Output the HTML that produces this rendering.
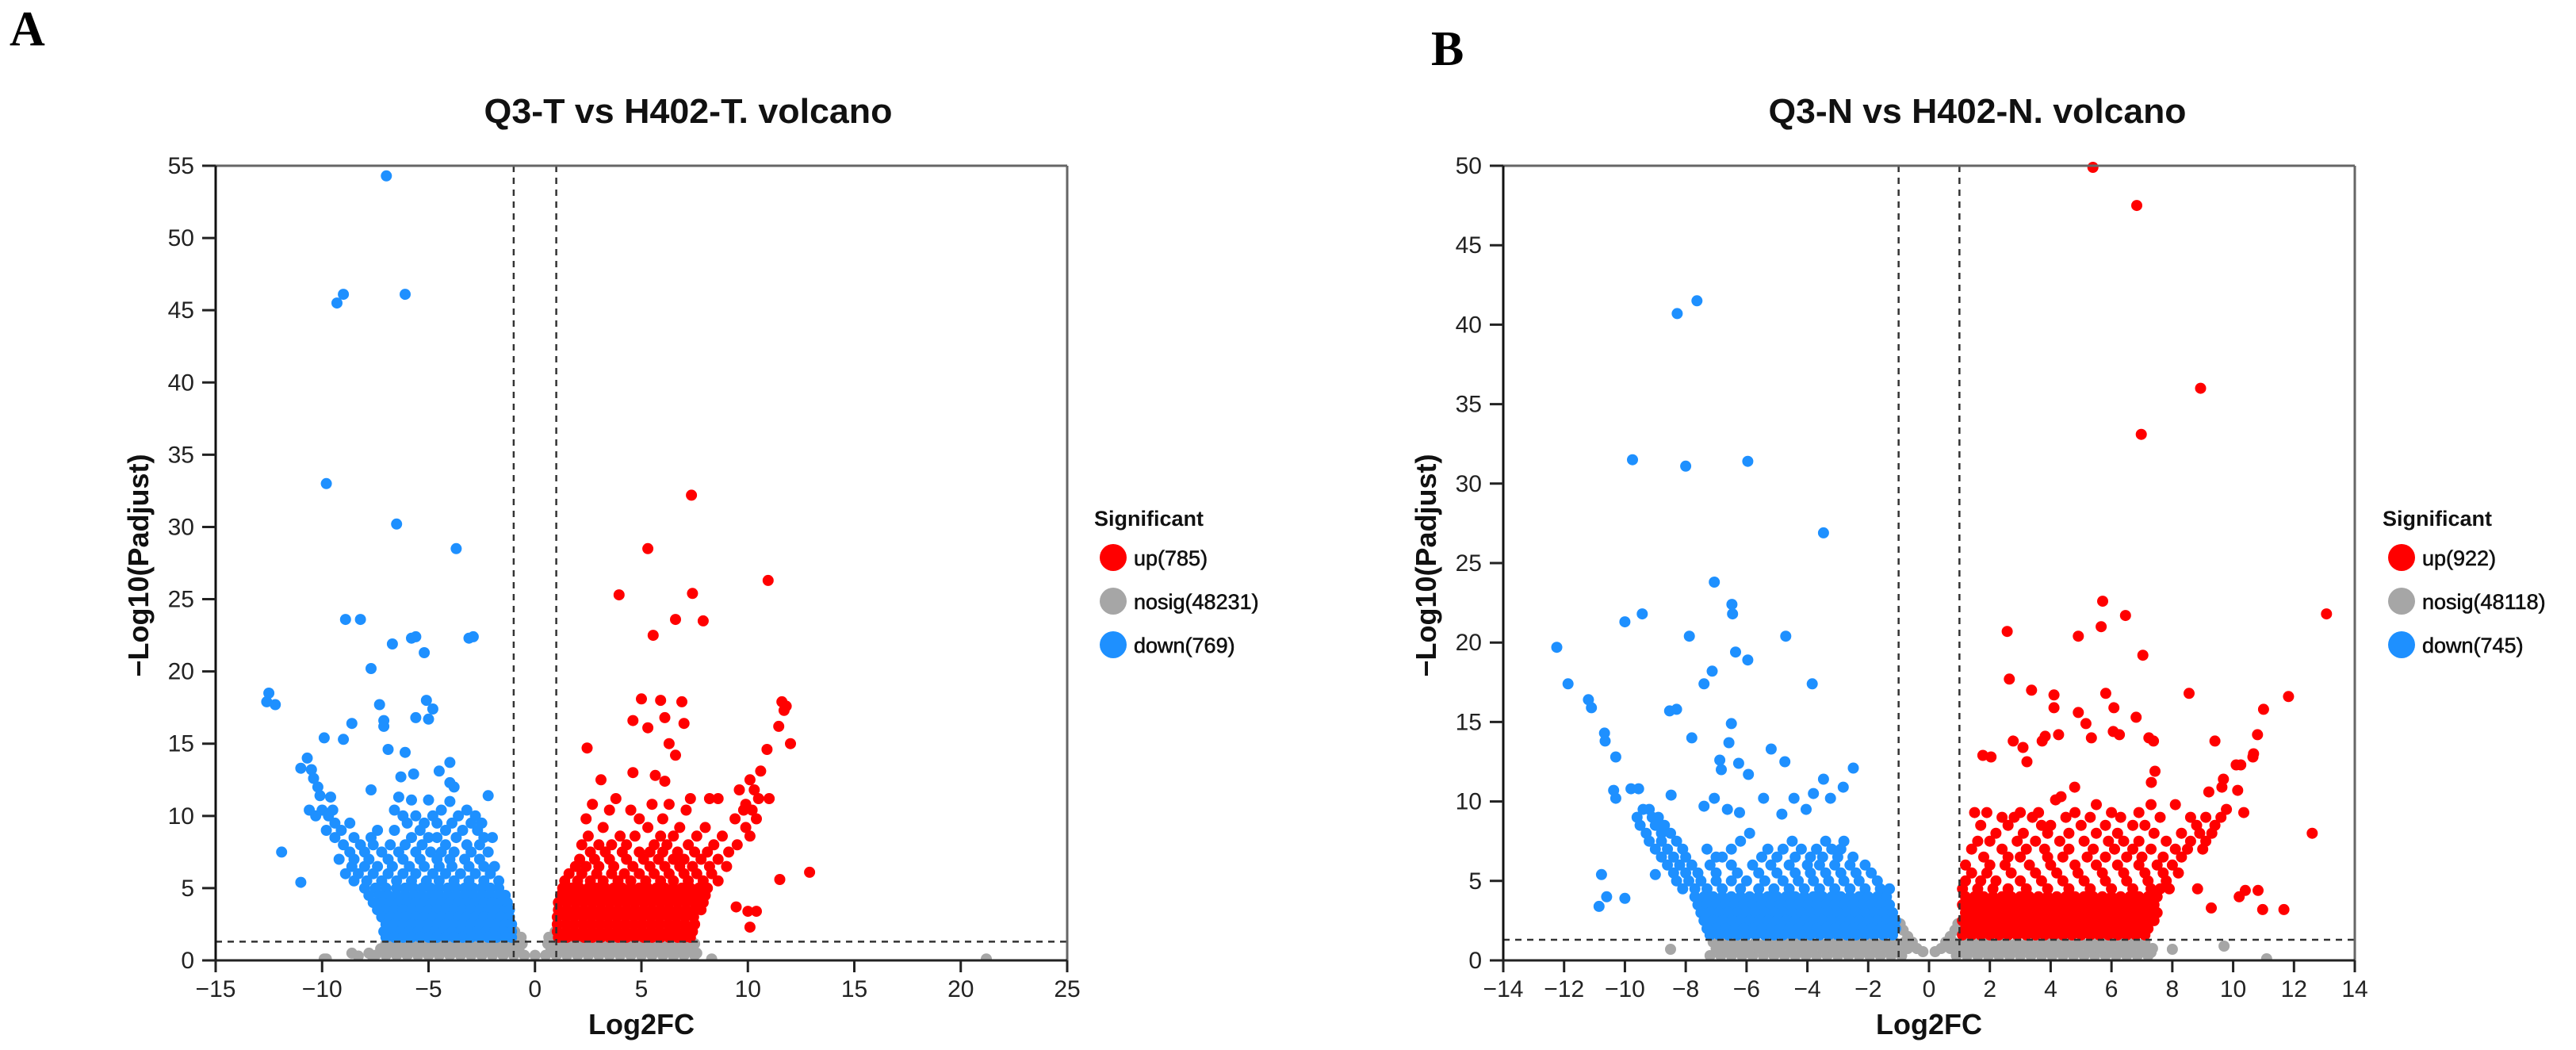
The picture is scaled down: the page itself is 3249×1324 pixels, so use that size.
<!DOCTYPE html>
<html><head><meta charset="utf-8"><style>
html,body{margin:0;padding:0;background:#fff;}
svg{display:block;}
text{font-family:"Liberation Sans",Arial,sans-serif;}
</style></head><body>
<svg id="fig" width="3249" height="1324" viewBox="0 0 3249 1324" xmlns="http://www.w3.org/2000/svg">
<rect width="3249" height="1324" fill="#fff"/>
<text x="12" y="57" font-family="Liberation Serif, serif" font-weight="bold" font-size="62" style="font-family:'Liberation Serif',serif">A</text>
<text x="1805" y="82" font-weight="bold" font-size="62" style="font-family:'Liberation Serif',serif">B</text>
<g id="pa"></g>
<g id="pb"></g>
</svg>
<script>
// ---------- Panel A data (rows: [y, x1, x2, ...]) ----------
const aXTicks = [-15,-10,-5,0,5,10,15,20,25];
const aYTicks = [0,5,10,15,20,25,30,35,40,45,50,55];
const aLegend = ["up(785)","nosig(48231)","down(769)"];
const aGray = [
[0.35,-7.5,-7,-6.5,-6,-5.5,-5,-4.5,-4,-3.5,-3,-2.5,-2,-1.5,-1,-0.5,0,0.5,1,1.5,2,2.5,3,3.5,4,4.5,5,5.5,6,6.5,7,7.5],
[0.8,-7.25,-6.75,-6.25,-5.75,-5.25,-4.75,-4.25,-3.75,-3.25,-2.75,-2.25,-1.75,-1.25,-0.75,0.75,1.25,1.75,2.25,2.75,3.25,3.75,4.25,4.75,5.25,5.75,6.25,6.75,7.25],
[1.15,-7,-6.5,-6,-5.5,-5,-4.5,-4,-3.5,-3,-2.5,-2,-1.5,-1,-0.6,0.6,1,1.5,2,2.5,3,3.5,4,4.5,5,5.5,6,6.5,7,7.5],
[1.6,-0.85,-0.65,0.65,0.85],[2.0,-0.95,0.95],
[0.1,-9.8,-9.9,-7.6,8.3,21.2],[0.5,-8.6,-7.8,7.6],[0.3,-8.3,6.5]
];
const aDown = [
[54.3,-6.98],[46.1,-9.0,-6.1],[45.5,-9.3],[33.0,-9.8],[30.2,-6.5],[28.5,-3.7],[23.6,-8.9,-8.2],[21.9,-6.7],[22.3,-5.8,-3.1],[22.4,-5.6,-2.9],[21.3,-5.2],[20.2,-7.7],[18.5,-12.5],[17.9,-12.6],[17.7,-12.2,-7.3],[18.0,-5.1],[17.4,-4.8],[16.7,-5.0],[16.8,-5.6],[16.6,-7.1],[16.2,-7.1],[16.4,-8.6],[15.4,-9.9],[15.3,-9.0],[14.6,-6.9],[14.4,-6.1],[14.0,-10.7],[13.3,-11.0],[13.2,-10.5],[12.6,-10.4],[12.0,-10.2],[11.4,-10.1,-2.2],[13.7,-4.0],[13.1,-4.5],[12.9,-5.7],[12.7,-6.3],[12.3,-4.0],[12.0,-3.8],[11.8,-7.7],[11.3,-9.6,-6.4],[11.1,-5.8,-5.0],[11.0,-4.0],[7.5,-11.9],[5.4,-11.0],
[10.4,-10.6,-10.0,-9.5,-6.6,-4.4,-3.2],[10.0,-10.3,-9.7,-6.2,-5.6,-4.8,-3.6,-2.8],[9.5,-9.4,-8.7,-6.0,-5.2,-4.6,-3.9,-3.0,-2.5],[9.0,-9.8,-9.1,-7.4,-6.6,-5.4,-4.2,-3.4,-2.7],[8.5,-9.4,-8.5,-7.7,-5.8,-5.0,-4.6,-3.7,-2.4,-2.0],[8.0,-9.0,-8.2,-7.6,-6.8,-6.1,-5.3,-4.2,-3.2,-2.6],[7.5,-8.7,-8.0,-7.2,-6.4,-5.6,-4.9,-4.4,-3.8,-3.0,-2.2],[7.0,-9.2,-8.5,-7.8,-6.9,-6.2,-5.4,-4.6,-4.0,-3.3,-2.6],[6.5,-8.6,-8.0,-7.4,-6.7,-5.9,-5.2,-4.5,-3.9,-3.1,-2.4,-1.9],[6.0,-8.9,-8.3,-7.6,-6.9,-6.2,-5.6,-4.8,-4.2,-3.5,-2.8,-2.1],[5.5,-8.5,-7.9,-7.2,-6.5,-5.8,-5.1,-4.5,-3.8,-3.1,-2.4,-1.7],
[5.0,-8.0,-7.5,-7.0,-6.5,-6.1,-5.7,-5.3,-4.9,-4.5,-4.1,-3.7,-3.3,-2.9,-2.5,-2.1,-1.7],
[4.5,-7.8,-7.3,-6.9,-6.5,-6.1,-5.7,-5.3,-4.9,-4.5,-4.1,-3.7,-3.3,-2.9,-2.5,-2.1,-1.7,-1.4],
[4.0,-7.6,-7.2,-6.8,-6.4,-6.0,-5.6,-5.2,-4.8,-4.4,-4.0,-3.6,-3.2,-2.8,-2.4,-2.0,-1.6,-1.3],
[3.5,-7.4,-7.0,-6.6,-6.2,-5.8,-5.4,-5.0,-4.6,-4.2,-3.8,-3.4,-3.0,-2.6,-2.2,-1.8,-1.4,-1.2],
[3.0,-7.2,-6.8,-6.4,-6.0,-5.6,-5.2,-4.8,-4.4,-4.0,-3.6,-3.2,-2.8,-2.4,-2.0,-1.6,-1.2],
[2.5,-7.0,-6.6,-6.2,-5.8,-5.4,-5.0,-4.6,-4.2,-3.8,-3.4,-3.0,-2.6,-2.2,-1.8,-1.4,-1.1],
[2.0,-7.1,-6.7,-6.3,-5.9,-5.5,-5.1,-4.7,-4.3,-3.9,-3.5,-3.1,-2.7,-2.3,-1.9,-1.5,-1.1],
[1.6,-7.0,-6.6,-6.2,-5.8,-5.4,-5.0,-4.6,-4.2,-3.8,-3.4,-3.0,-2.6,-2.2,-1.8,-1.4,-1.1]
];
const aUp = [
[32.2,7.35],[28.5,5.3],[25.3,3.95],[25.4,7.4],[26.3,10.95],[23.6,6.6],[23.5,7.9],[22.5,5.55],[18.1,5.0],[18.0,5.9],[17.9,6.9,11.6],[17.3,11.7],[17.6,11.8],[16.6,4.6],[16.1,5.3],[16.8,6.1],[16.4,7.0],[16.2,11.45],[14.7,2.45],[15.0,6.3,12.0],[14.2,6.6],[14.6,10.9],[12.5,3.1,10.1],[13.0,4.6],[13.1,10.6],[12.8,5.65],[12.4,6.1],[6.1,12.9],[5.6,11.5],[3.7,9.45],[3.4,10.0,10.4],[2.3,10.1],
[11.8,9.6,10.3],[11.2,3.8,7.3,8.2,8.6,10.5,11.0],[10.8,2.7,5.5,6.3,9.9],[10.4,3.5,4.5,7.1,9.8,10.2],[9.8,2.4,4.9,6.0,9.4,10.4],[9.2,3.2,5.3,6.8,8.0,9.9],[8.6,2.5,4.0,4.7,5.9,6.5,7.6,8.8,10.1],[8.0,2.2,3.0,3.6,4.3,5.6,6.2,7.2,8.4,9.5],[7.5,2.6,3.3,4.1,4.9,5.4,6.0,6.7,7.5,8.1,9.1],[7.0,2.1,2.8,3.5,4.3,5.1,5.8,6.5,7.0,7.8,8.6],[6.5,1.9,2.4,3.0,3.7,4.6,5.4,6.1,6.8,7.4,8.2,9.0],[6.0,1.6,2.2,2.9,3.6,4.2,4.9,5.6,6.3,7.0,7.6,8.3],[5.5,1.4,2.0,2.6,3.2,3.9,4.5,5.2,5.9,6.5,7.2,7.9,8.6],
[5.0,1.3,1.7,2.1,2.5,2.9,3.3,3.7,4.1,4.5,4.9,5.3,5.7,6.1,6.5,6.9,7.3,7.7,8.1],
[4.5,1.2,1.6,2.0,2.4,2.8,3.2,3.6,4.0,4.4,4.8,5.2,5.6,6.0,6.4,6.8,7.2,7.6,8.0],
[4.0,1.1,1.5,1.9,2.3,2.7,3.1,3.5,3.9,4.3,4.7,5.1,5.5,5.9,6.3,6.7,7.1,7.5,7.9],
[3.5,1.1,1.5,1.9,2.3,2.7,3.1,3.5,3.9,4.3,4.7,5.1,5.5,5.9,6.3,6.7,7.1,7.5,7.8],
[3.0,1.05,1.45,1.85,2.25,2.65,3.05,3.45,3.85,4.25,4.65,5.05,5.45,5.85,6.25,6.65,7.05,7.45],
[2.5,1.05,1.45,1.85,2.25,2.65,3.05,3.45,3.85,4.25,4.65,5.05,5.45,5.85,6.25,6.65,7.05,7.5],
[2.0,1.05,1.45,1.85,2.25,2.65,3.05,3.45,3.85,4.25,4.65,5.05,5.45,5.85,6.25,6.65,7.05,7.4],
[1.6,1.1,1.5,1.9,2.3,2.7,3.1,3.5,3.9,4.3,4.7,5.1,5.5,5.9,6.3,6.7,7.0,7.3]
];
// ---------- Panel B data ----------
const bXTicks = [-14,-12,-10,-8,-6,-4,-2,0,2,4,6,8,10,12,14];
const bYTicks = [0,5,10,15,20,25,30,35,40,45,50];
const bLegend = ["up(922)","nosig(48118)","down(745)"];
const bGray = [
[0.3,-7.2,-6.85,-6.5,-6.15,-5.8,-5.45,-5.1,-4.75,-4.4,-4.05,-3.7,-3.35,-3.0,-2.65,-2.3,-1.95,-1.6,-1.25,-0.9,0.9,1.25,1.6,1.95,2.3,2.65,3.0,3.35,3.7,4.05,4.4,4.75,5.1,5.45,5.8,6.15,6.5,6.85,7.2],
[0.75,-7.0,-6.65,-6.3,-5.95,-5.6,-5.25,-4.9,-4.55,-4.2,-3.85,-3.5,-3.15,-2.8,-2.45,-2.1,-1.75,-1.4,-1.05,-0.7,-0.4,0.4,0.7,1.05,1.4,1.75,2.1,2.45,2.8,3.15,3.5,3.85,4.2,4.55,4.9,5.25,5.6,5.95,6.3,6.65,7.0,7.35],
[1.15,-7.1,-6.75,-6.4,-6.05,-5.7,-5.35,-5.0,-4.65,-4.3,-3.95,-3.6,-3.25,-2.9,-2.55,-2.2,-1.85,-1.5,-1.15,-0.8,-0.55,0.55,0.8,1.15,1.5,1.85,2.2,2.55,2.9,3.25,3.6,3.95,4.3,4.65,5.0,5.35,5.7,6.05,6.4,6.75,7.1],
[0.55,-0.2,0.2],[1.5,-0.7,0.7],[1.9,-0.85,0.85],[2.3,-0.95,0.95],
[0.7,-8.5,8.0],[0.9,-6.5,-5.6,9.7],[0.8,-6.9],[0.5,-5.0,-6.0,7.3],[0.1,11.1]
];
const bDown = [
[40.7,-8.28],[41.5,-7.63],[31.5,-9.75],[31.1,-8.0],[31.4,-5.96],[26.9,-3.47],[23.8,-7.06],[22.4,-6.48],[21.8,-6.46,-9.43],[21.3,-10.0],[19.7,-12.24],[20.4,-7.88,-4.71],[19.4,-6.36],[18.9,-5.96],[18.2,-7.13],[17.4,-7.4,-11.87,-3.84],[16.4,-11.2],[15.9,-11.1],[15.7,-8.53],[15.8,-8.3],[14.9,-6.5],[14.3,-10.67],[13.8,-10.65],[14.0,-7.8],[13.7,-6.58],[13.3,-5.19],[12.8,-10.3],[12.6,-6.88],[12.4,-6.26],[12.5,-4.74],[12.0,-6.83],[12.1,-2.49],[11.7,-5.94],[11.4,-3.47],[10.9,-2.82],[10.2,-3.24,-10.3,-7.06,-5.44,-4.44],[10.7,-10.37],[10.8,-9.55,-9.8],[10.4,-8.48],[10.5,-3.8],[9.7,-7.4],[9.5,-6.63,-4.04],[9.3,-6.23],[9.2,-4.84],[5.4,-10.77,-9.0],[4.0,-10.6],[3.9,-10.0],[3.4,-10.85],
[9.5,-9.4,-9.2],[9.0,-9.6,-9.1,-8.9],[8.5,-9.5,-9.0,-8.7],[8.0,-9.3,-8.8,-8.5,-5.9],[7.5,-9.2,-8.8,-8.3,-6.2,-4.5,-3.4,-2.8],[7.0,-9.0,-8.6,-8.1,-7.3,-6.5,-5.3,-4.8,-4.2,-3.7,-3.2,-2.9],[6.5,-8.8,-8.4,-8.0,-7.0,-6.8,-5.5,-5.0,-4.4,-3.9,-3.5,-3.0,-2.5],[6.0,-8.6,-8.2,-7.8,-7.2,-6.5,-5.8,-5.2,-4.6,-4.0,-3.6,-3.1,-2.6,-2.1],[5.5,-8.4,-8.0,-7.6,-7.0,-6.3,-5.6,-5.0,-4.4,-3.9,-3.4,-2.9,-2.4,-1.9],[5.0,-8.3,-7.9,-7.5,-7.0,-6.5,-6.0,-5.4,-4.8,-4.3,-3.8,-3.3,-2.8,-2.3,-1.7],[4.5,-8.1,-7.7,-7.3,-6.8,-6.2,-5.6,-5.1,-4.6,-4.1,-3.6,-3.1,-2.6,-2.1,-1.6,-1.3],
[4.0,-7.7,-7.4,-7.1,-6.8,-6.5,-6.2,-5.9,-5.6,-5.3,-5.0,-4.7,-4.4,-4.1,-3.8,-3.5,-3.2,-2.9,-2.6,-2.3,-2.0,-1.7,-1.4],
[3.5,-7.6,-7.3,-7.0,-6.7,-6.4,-6.1,-5.8,-5.5,-5.2,-4.9,-4.6,-4.3,-4.0,-3.7,-3.4,-3.1,-2.8,-2.5,-2.2,-1.9,-1.6,-1.3],
[3.0,-7.5,-7.2,-6.9,-6.6,-6.3,-6.0,-5.7,-5.4,-5.1,-4.8,-4.5,-4.2,-3.9,-3.6,-3.3,-3.0,-2.7,-2.4,-2.1,-1.8,-1.5,-1.2],
[2.5,-7.4,-7.1,-6.8,-6.5,-6.2,-5.9,-5.6,-5.3,-5.0,-4.7,-4.4,-4.1,-3.8,-3.5,-3.2,-2.9,-2.6,-2.3,-2.0,-1.7,-1.4,-1.1],
[2.0,-7.3,-7.0,-6.7,-6.4,-6.1,-5.8,-5.5,-5.2,-4.9,-4.6,-4.3,-4.0,-3.7,-3.4,-3.1,-2.8,-2.5,-2.2,-1.9,-1.6,-1.3,-1.1],
[1.6,-7.2,-6.9,-6.6,-6.3,-6.0,-5.7,-5.4,-5.1,-4.8,-4.5,-4.2,-3.9,-3.6,-3.3,-3.0,-2.7,-2.4,-2.1,-1.8,-1.5,-1.2]
];
const bUp = [
[49.9,5.39],[47.5,6.83],[36.0,8.93],[33.1,6.98],[21.8,13.07],[21.7,6.46],[22.6,5.71],[21.0,5.66],[20.7,2.57],[20.4,4.91],[19.2,7.03],[17.7,2.64],[17.0,3.37],[16.7,4.11],[16.8,5.81,8.55],[16.6,11.82],[15.9,4.11,6.08],[15.3,6.81],[15.8,11.0],[15.6,4.91],[14.9,5.16],[14.4,6.06],[14.2,6.26,4.26,10.8],[14.0,7.23,5.34],[13.8,7.38,3.72,9.4,2.77],[14.1,3.82],[13.4,3.09],[12.5,3.22],[12.9,1.77],[12.8,2.04,10.65],[13.0,10.67],[12.3,10.1,10.25],[11.9,7.43],[11.2,7.31],[11.4,9.68],[10.9,9.63,4.79],[10.6,9.2],[10.7,10.15],[10.3,4.34],[10.1,4.16],[8.0,12.6],[9.3,10.35],[9.5,9.78],[4.4,10.4,10.82],[4.0,10.2],[3.3,9.28],[3.2,10.97,11.67],[4.5,8.83],
[9.8,5.5,7.3,8.1],[9.3,1.5,1.9,3.0,3.6,4.8,6.0,6.9],[9.0,2.4,2.8,3.4,4.5,5.3,6.3,7.6,8.6,9.1,9.6],[8.5,1.7,2.6,3.7,4.0,5.0,5.8,6.7,7.1,8.8,9.4],[8.0,2.2,3.1,3.9,4.6,5.5,6.2,7.4,8.3,8.9,9.3],[7.5,1.6,2.0,2.9,3.5,4.3,5.1,5.9,6.4,6.9,7.8,8.6,9.1],[7.0,1.4,2.4,3.2,3.8,4.6,5.4,6.1,6.7,7.3,8.1,8.5,9.0],[6.5,1.8,2.6,3.0,3.9,4.4,5.2,5.8,6.5,7.0,7.7,8.3],[6.0,1.2,2.0,2.5,3.3,4.0,4.8,5.5,6.2,6.9,7.5,8.0],[5.5,1.4,1.9,2.7,3.5,4.2,4.9,5.7,6.4,7.1,7.7,8.2],[5.0,1.2,1.7,2.2,3.0,3.7,4.4,5.1,5.8,6.5,7.2,7.8],[4.5,1.1,1.6,2.1,2.6,3.2,3.9,4.6,5.3,6.0,6.7,7.3,7.6,7.9],
[4.0,1.2,1.5,1.8,2.1,2.4,2.7,3.0,3.3,3.6,3.9,4.2,4.5,4.8,5.1,5.4,5.7,6.0,6.3,6.6,6.9,7.2,7.5],
[3.5,1.1,1.4,1.7,2.0,2.3,2.6,2.9,3.2,3.5,3.8,4.1,4.4,4.7,5.0,5.3,5.6,5.9,6.2,6.5,6.8,7.1,7.4],
[3.0,1.2,1.5,1.8,2.1,2.4,2.7,3.0,3.3,3.6,3.9,4.2,4.5,4.8,5.1,5.4,5.7,6.0,6.3,6.6,6.9,7.2,7.5],
[2.5,1.1,1.4,1.7,2.0,2.3,2.6,2.9,3.2,3.5,3.8,4.1,4.4,4.7,5.0,5.3,5.6,5.9,6.2,6.5,6.8,7.1,7.4],
[2.0,1.2,1.5,1.8,2.1,2.4,2.7,3.0,3.3,3.6,3.9,4.2,4.5,4.8,5.1,5.4,5.7,6.0,6.3,6.6,6.9,7.2],
[1.6,1.1,1.4,1.7,2.0,2.3,2.6,2.9,3.2,3.5,3.8,4.1,4.4,4.7,5.0,5.3,5.6,5.9,6.2,6.5,6.8,7.1]
];
const thresholdX = [-1, 1];
const thresholdY = [1.3];

const NS = "http://www.w3.org/2000/svg";
function mk(tag, attrs, parent){
  const e = document.createElementNS(NS, tag);
  for (const k in attrs) e.setAttribute(k, attrs[k]);
  parent.appendChild(e);
  return e;
}
function fmt(v){ return v < 0 ? "\u2212" + Math.abs(v) : String(v); }

function panel(g, cfg){
  const sx = v => cfg.L + (v - cfg.xmin) / (cfg.xmax - cfg.xmin) * (cfg.R - cfg.L);
  const sy = v => cfg.B - (v - cfg.ymin) / (cfg.ymax - cfg.ymin) * (cfg.B - cfg.T);
  const cpId = cfg.id + "-clip";
  const defs = mk("defs", {}, g);
  const cp = mk("clipPath", {id: cpId}, defs);
  mk("rect", {x: cfg.L, y: cfg.T - 8, width: cfg.R - cfg.L + 8, height: cfg.B - cfg.T + 8}, cp);
  const pts = mk("g", {"clip-path": "url(#" + cpId + ")"}, g);
  
  
  const series = [[cfg.gray, "#a6a6a6", "nosig-point"], [cfg.down, "#1e90ff", "down-point"], [cfg.up, "#ff0000", "up-point"]];
  series.forEach(s => {
    const sg = mk("g", {fill: s[1]}, pts);
    
    
    s[0].forEach(row => {
      for (let i = 1; i < row.length; i++) {
        const c = mk("circle", {cx: sx(row[i]).toFixed(1), cy: sy(row[0]).toFixed(1), r: 7}, sg);
        
        
      }
    });
  });
  // threshold lines
  thresholdX.forEach(v => {
    const l = mk("line", {x1: sx(v), x2: sx(v), y1: cfg.T, y2: cfg.B, stroke: "#333", "stroke-width": 2.5, "stroke-dasharray": "8 7"}, g);
    
    
  });
  thresholdY.forEach(v => {
    const l = mk("line", {x1: cfg.L, x2: cfg.R, y1: sy(v), y2: sy(v), stroke: "#333", "stroke-width": 2.5, "stroke-dasharray": "8 7"}, g);
    
    
  });
  // frame
  const top = mk("line", {x1: cfg.L - 17, x2: cfg.R, y1: cfg.T, y2: cfg.T, stroke: "#666", "stroke-width": 3}, g);
  
  
  const right = mk("line", {x1: cfg.R, x2: cfg.R, y1: cfg.T, y2: cfg.B + 15, stroke: "#666", "stroke-width": 3}, g);
  
  
  const yax = mk("line", {x1: cfg.L, x2: cfg.L, y1: cfg.T, y2: cfg.B + 15, stroke: "#111", "stroke-width": 3}, g);
  
  
  const xax = mk("line", {x1: cfg.L - 17, x2: cfg.R, y1: cfg.B, y2: cfg.B, stroke: "#222", "stroke-width": 3}, g);
  
  
  cfg.yticks.forEach(v => {
    const t = mk("line", {x1: cfg.L - 17, x2: cfg.L, y1: sy(v), y2: sy(v), stroke: "#222", "stroke-width": 3}, g);
    
    
    const tx = mk("text", {x: cfg.L - 27, y: sy(v) + 10, "text-anchor": "end", "font-size": 30, fill: "#222"}, g);
    tx.textContent = fmt(v);
    
    
  });
  cfg.xticks.forEach(v => {
    const t = mk("line", {x1: sx(v), x2: sx(v), y1: cfg.B, y2: cfg.B + 15, stroke: "#222", "stroke-width": 3}, g);
    
    
    const tx = mk("text", {x: sx(v), y: cfg.B + 46, "text-anchor": "middle", "font-size": 30, fill: "#222"}, g);
    tx.textContent = fmt(v);
    
    
  });
  const ttl = mk("text", {x: cfg.titleX, y: 155, "text-anchor": "middle", "font-size": 44, "font-weight": "bold", fill: "#111", textLength: cfg.titleW, lengthAdjust: "spacingAndGlyphs"}, g);
  ttl.textContent = cfg.title;
  
  
  const xt = mk("text", {x: (cfg.L + cfg.R) / 2, y: 1304, "text-anchor": "middle", "font-size": 36, "font-weight": "bold", fill: "#111"}, g);
  xt.textContent = "Log2FC";
  
  
  const yt = mk("text", {x: 0, y: 0, "text-anchor": "middle", "font-size": 36, "font-weight": "bold", fill: "#111", transform: "translate(" + (cfg.L - 85) + ",713) rotate(-90)"}, g);
  yt.textContent = "\u2212Log10(Padjust)";
  
  
  // legend
  const lg = mk("g", {}, g);
  
  
  const lt = mk("text", {x: cfg.legX - 12, y: 663, "font-size": 27, "font-weight": "bold", fill: "#111"}, lg);
  lt.textContent = "Significant";
  
  
  const cols = ["#ff0000", "#a6a6a6", "#1e90ff"];
  cfg.legend.forEach((lab, i) => {
    const cy = 703 + i * 55;
    const c = mk("circle", {cx: cfg.legX + 12, cy: cy, r: 17, fill: cols[i]}, lg);
    
    
    const t = mk("text", {x: cfg.legX + 38, y: cy + 10, "font-size": 27, fill: "#111", stroke: "#111", "stroke-width": 0.6}, lg);
    t.textContent = lab;
    
    
  });
}

panel(document.getElementById("pa"), {id: "pa", L: 272, R: 1346, T: 209, B: 1211, xmin: -15, xmax: 25, ymin: 0, ymax: 55,
  xticks: aXTicks, yticks: aYTicks, gray: aGray, down: aDown, up: aUp, legend: aLegend,
  title: "Q3-T vs H402-T. volcano", titleX: 868, titleW: 515, legX: 1392});
panel(document.getElementById("pb"), {id: "pb", L: 1896, R: 2970, T: 209, B: 1211, xmin: -14, xmax: 14, ymin: 0, ymax: 50,
  xticks: bXTicks, yticks: bYTicks, gray: bGray, down: bDown, up: bUp, legend: bLegend,
  title: "Q3-N vs H402-N. volcano", titleX: 2494, titleW: 527, legX: 3017});
</script>
</body></html>
